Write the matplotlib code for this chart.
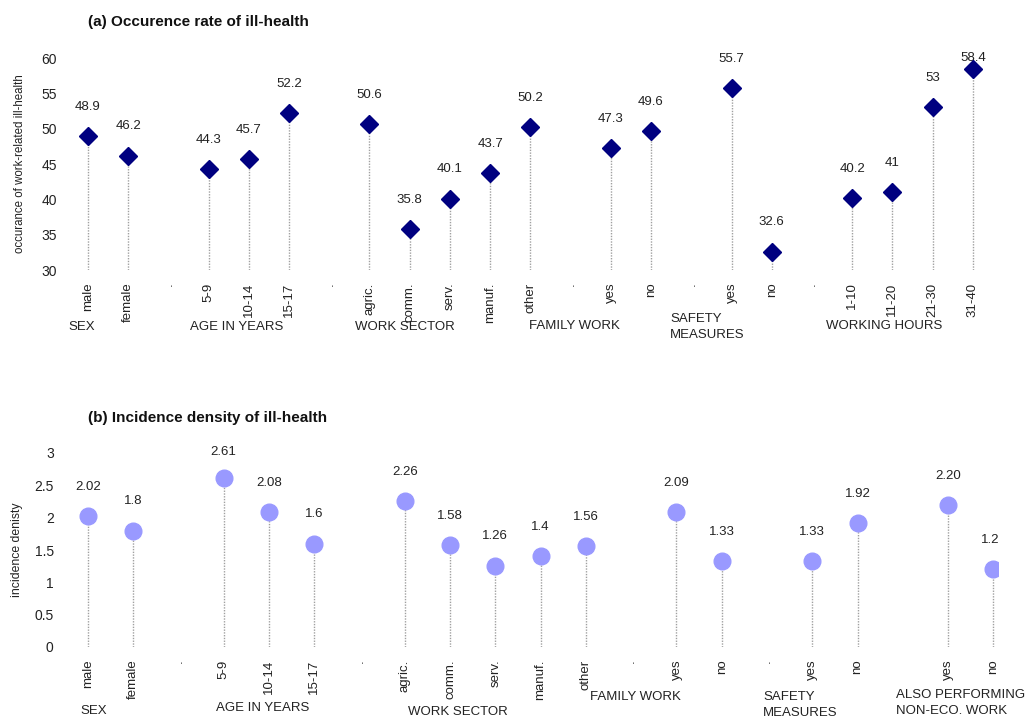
import matplotlib
matplotlib.use("Agg")
import matplotlib.pyplot as plt
from matplotlib.transforms import Bbox, TransformedBbox

plt.rcParams['font.family'] = ['Liberation Sans Narrow', 'Liberation Sans', 'DejaVu Sans']

# ---- data (a) ----
top_cats = ['male', 'female', '.', '5-9', '10-14', '15-17', '.', 'agric.', 'comm.', 'serv.',
            'manuf.', 'other', '.', 'yes', 'no', '.', 'yes', 'no', '.', '1-10', '11-20', '21-30', '31-40']
top_vals = [48.9, 46.2, None, 44.3, 45.7, 52.2, None, 50.6, 35.8, 40.1,
            43.7, 50.2, None, 47.3, 49.6, None, 55.7, 32.6, None, 40.2, 41, 53, 58.4]
top_txt = ['48.9', '46.2', '', '44.3', '45.7', '52.2', '', '50.6', '35.8', '40.1',
           '43.7', '50.2', '', '47.3', '49.6', '', '55.7', '32.6', '', '40.2', '41', '53', '58.4']
top_groups = ['SEX', 'AGE IN YEARS', 'WORK SECTOR', 'FAMILY WORK', 'SAFETY\nMEASURES', 'WORKING HOURS']

# ---- data (b) ----
bot_cats = ['male', 'female', '.', '5-9', '10-14', '15-17', '.', 'agric.', 'comm.', 'serv.',
            'manuf.', 'other', '.', 'yes', 'no', '.', 'yes', 'no', '', 'yes', 'no']
bot_vals = [2.02, 1.8, None, 2.61, 2.08, 1.6, None, 2.26, 1.58, 1.26,
            1.4, 1.56, None, 2.09, 1.33, None, 1.33, 1.92, None, 2.20, 1.20]
bot_txt = ['2.02', '1.8', '', '2.61', '2.08', '1.6', '', '2.26', '1.58', '1.26',
           '1.4', '1.56', '', '2.09', '1.33', '', '1.33', '1.92', '', '2.20', '1.20']
bot_groups = ['SEX', 'AGE IN YEARS', 'WORK SECTOR', 'FAMILY WORK', 'SAFETY\nMEASURES',
              'ALSO PERFORMING\nNON-ECO. WORK']

W, H = 1029, 722
fig = plt.figure(figsize=(W / 100, H / 100), dpi=100)


def fx(x):
    return x / W


def fy(y):
    return 1 - y / H


def lollipop(rect, cats, vals, txt, ylim, yticks, yticklabels, marker, ms, color,
             xlim, ylabel, ylabel_x, ylabel_fs, label_top):
    ax = fig.add_axes(rect)
    ax.set_xlim(*xlim)
    ax.set_ylim(*ylim)
    xs = [i for i, v in enumerate(vals) if v is not None]
    vs = [v for v in vals if v is not None]
    ax.vlines(xs, ylim[0], vs, colors='#a0a0a0', linestyles=(0, (1, 1)), linewidth=1, zorder=1)
    ax.plot(xs, vs, linestyle='none', marker=marker, markersize=ms, color=color,
            markeredgecolor=color, zorder=3)
    # labels may go above the axes but are cut at its right edge
    clip = TransformedBbox(Bbox([[rect[0], 0], [rect[0] + rect[2], 1]]), fig.transFigure)
    for i, v in enumerate(vals):
        if v is None:
            continue
        # keep label centre below label_top (pixels from top of figure)
        ypix = H - ax.transData.transform((i, v))[1]
        off = min(21, (ypix - label_top) * 0.72)
        t = ax.annotate(txt[i], (i, v), xytext=(0, off), textcoords='offset points',
                        ha='center', va='center', fontsize=9.5, color='#222222',
                        annotation_clip=False, zorder=2)
        t.set_clip_box(clip)
        t.set_clip_on(True)
    ax.set_xticks(range(len(cats)))
    ax.set_xticklabels(cats, rotation=90, fontsize=9.5, color='#222222')
    ax.set_yticks(yticks)
    ax.set_yticklabels(yticklabels, fontsize=10, color='#222222')
    ax.tick_params(axis='x', length=0, pad=9)
    ax.tick_params(axis='y', length=0, pad=6)
    for s in ax.spines.values():
        s.set_visible(False)
    fig.text(fx(ylabel_x), rect[1] + rect[3] / 2, ylabel, rotation=90, ha='center',
             va='center', fontsize=ylabel_fs, color='#222222')
    return ax


# panel (a)
ax1 = lollipop([fx(65), fy(270), fx(1001) - fx(65), fy(58) - fy(270)],
               top_cats, top_vals, top_txt, (30, 60), [30, 35, 40, 45, 50, 55, 60],
               ['30', '35', '40', '45', '50', '55', '60'], 'D', 9.5, '#000080',
               (-0.57, 22.7), 'occurance of work-related ill-health', 20, 8.3, 58)

# panel (b)
ax2 = lollipop([fx(62), fy(647), fx(998) - fx(62), fy(453) - fy(647)],
               bot_cats, bot_vals, bot_txt, (0, 3), [0, 0.5, 1, 1.5, 2, 2.5, 3],
               ['0', '0.5', '1', '1.5', '2', '2.5', '3'], 'o', 12, '#9999ff',
               (-0.57, 20.1), 'incidence denisty', 17, 8.8, 452)

fig.text(fx(88), fy(22), '(a) Occurence rate of ill-health', fontsize=11, fontweight='bold',
         ha='left', va='center', color='#111111')
fig.text(fx(88), fy(418), '(b) Incidence density of ill-health', fontsize=11, fontweight='bold',
         ha='left', va='center', color='#111111')

top_pos = [(68, 327), (190, 327), (355, 327), (529, 326), (670, 327), (826, 326)]
for g, (x, y) in zip(top_groups, top_pos):
    fig.text(fx(x), fy(y), g, fontsize=9.5, ha='left', va='center', linespacing=1.45,
             color='#222222')

bot_pos = [(80, 711), (216, 708), (408, 712), (590, 697), (763, 705), (896, 703)]
for g, (x, y) in zip(bot_groups, bot_pos):
    fig.text(fx(x), fy(y), g, fontsize=9.5, ha='left', va='center', linespacing=1.45,
             color='#222222')

fig.savefig('out.png', dpi=100)
